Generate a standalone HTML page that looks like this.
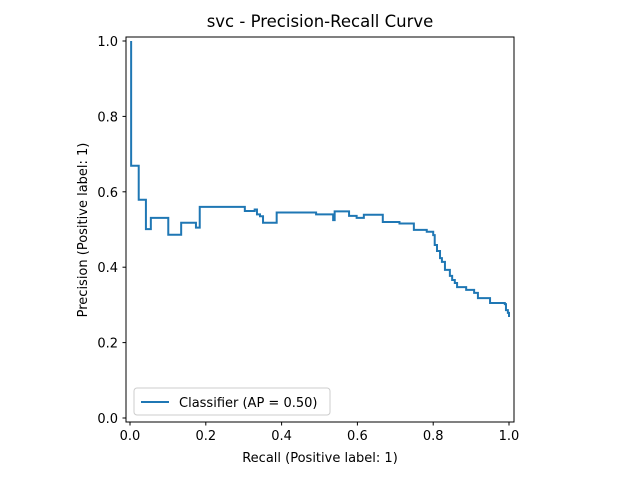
<!DOCTYPE html>
<html><head><meta charset="utf-8"><style>
body{margin:0;background:#fff}
svg text{font-family:"DejaVu Sans","Liberation Sans",sans-serif;fill:#000}
</style></head><body>
<svg id="c" width="640" height="480" xmlns="http://www.w3.org/2000/svg">
<rect width="640" height="480" fill="#fff"/>
<text x="320" y="27" font-size="16.5" text-anchor="middle">svc - Precision-Recall Curve</text>
<g id="ticks"></g>
<path id="curve" fill="none" stroke="#1f77b4" stroke-width="2"/>
<rect x="126" y="37" width="388" height="385" fill="none" stroke="#000" stroke-width="1"/>
<text x="320" y="462" font-size="13" text-anchor="middle">Recall (Positive label: 1)</text>
<text transform="translate(87,230) rotate(-90)" font-size="13" text-anchor="middle">Precision (Positive label: 1)</text>
<g>
<rect x="134" y="388" width="196" height="27" rx="3" fill="#fff" stroke="#ccc"/>
<line x1="141" y1="402" x2="169" y2="402" stroke="#1f77b4" stroke-width="2"/>
<text x="179" y="407" font-size="13">Classifier (AP = 0.50)</text>
</g>
</svg>
<script>
const recall=[0.003,0.003,0.023,0.042,0.055,0.101,0.135,0.174,0.184,0.303,0.329,0.335,0.343,0.351,0.387,0.491,0.536,0.54,0.578,0.598,0.617,0.667,0.711,0.749,0.783,0.800,0.804,0.806,0.81,0.818,0.823,0.831,0.844,0.85,0.857,0.863,0.887,0.908,0.918,0.95,0.989,0.992,0.997,1.0];
const precision=[1.0,0.669,0.579,0.501,0.531,0.486,0.518,0.505,0.560,0.549,0.553,0.540,0.535,0.518,0.545,0.540,0.525,0.548,0.536,0.531,0.539,0.520,0.516,0.499,0.494,0.485,0.459,0.459,0.443,0.424,0.414,0.393,0.377,0.366,0.358,0.347,0.340,0.332,0.318,0.305,0.302,0.286,0.279,0.268];
const ticks=[0,0.2,0.4,0.6,0.8,1.0];
const tickLabels=["0.0","0.2","0.4","0.6","0.8","1.0"];
const X=v=>130+v*379, Y=v=>418-v*377;
let d="M"+X(recall[0])+","+Y(precision[0]);
for(let i=1;i<recall.length;i++){d+=" H"+X(recall[i])+" V"+Y(precision[i]);}
document.getElementById('curve').setAttribute('d',d);
const g=document.getElementById('ticks'),NS="http://www.w3.org/2000/svg";
ticks.forEach((t,i)=>{
 let l=document.createElementNS(NS,'line');l.setAttribute('x1',X(t));l.setAttribute('x2',X(t));l.setAttribute('y1',422);l.setAttribute('y2',425.5);l.setAttribute('stroke','#000');
 
 g.appendChild(l);
 let tx=document.createElementNS(NS,'text');tx.setAttribute('x',X(t));tx.setAttribute('y',440);tx.setAttribute('font-size','13');tx.setAttribute('text-anchor','middle');tx.textContent=tickLabels[i];
 
 g.appendChild(tx);
 let m=document.createElementNS(NS,'line');m.setAttribute('x1',122.5);m.setAttribute('x2',126);m.setAttribute('y1',Y(t));m.setAttribute('y2',Y(t));m.setAttribute('stroke','#000');
 
 g.appendChild(m);
 let ty=document.createElementNS(NS,'text');ty.setAttribute('x',118);ty.setAttribute('y',Y(t)+5);ty.setAttribute('font-size','13');ty.setAttribute('text-anchor','end');ty.textContent=tickLabels[i];
 
 g.appendChild(ty);
});
</script>
</body></html>
